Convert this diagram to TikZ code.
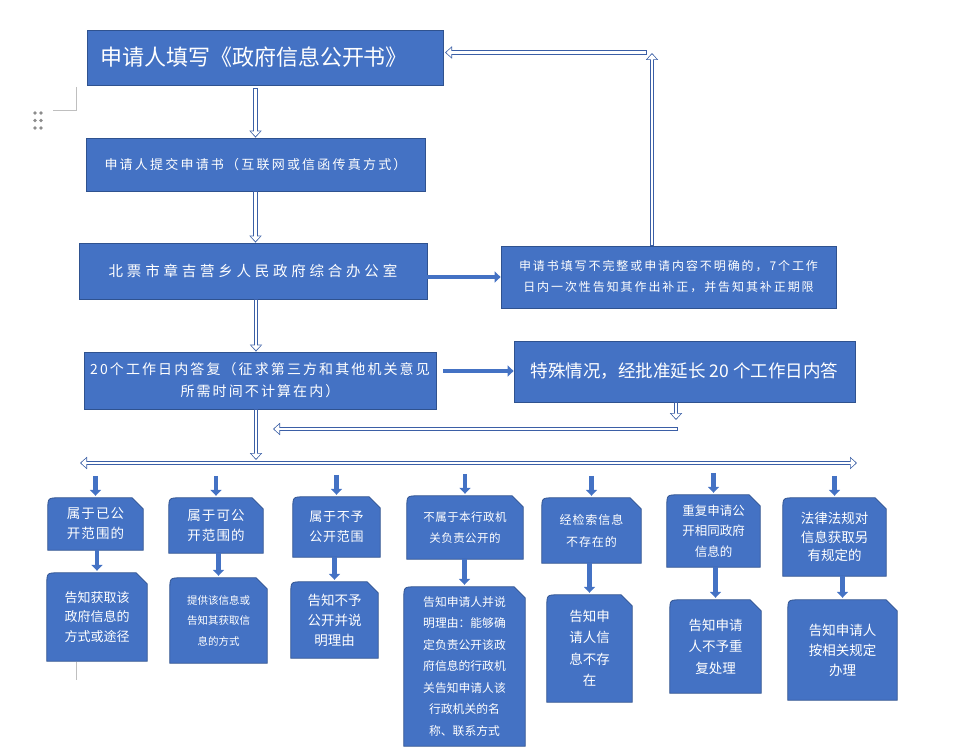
\documentclass[tikz,border=0pt]{standalone}
\usepackage{fontspec}
\setmainfont{Noto Sans CJK SC}
\usetikzlibrary{arrows.meta,backgrounds,calc}
\definecolor{boxblue}{HTML}{4472C4}
\definecolor{boxedge}{HTML}{2F528F}
\definecolor{arrline}{HTML}{3B5FA6}
\newcommand\fs[3]{\fontsize{#1}{#2}\selectfont\addfontfeature{LetterSpace=#3}}
\newcommand\snip[1]{\draw[tabshape] (#1.south west) -- ([yshift=-12pt]#1.north west) .. controls (#1.north west) .. ([xshift=12pt]#1.north west) -- ([xshift=-11pt]#1.north east) -- ([yshift=-11pt]#1.north east) -- (#1.south east) -- cycle;}
\begin{document}
\begin{tikzpicture}[x=1pt,y=-1pt,
  box/.style={draw=boxedge, fill=boxblue, line width=0.8pt, text=white, inner sep=0pt, align=center},
  tab/.style={text=white, inner sep=0pt, align=center},
  tabshape/.style={draw=boxedge, fill=boxblue, line width=0.8pt},
  hollow/.style={draw=arrline, line width=4.2pt, -{Triangle[length=7pt,width=12pt]},
    postaction={draw=white, line width=2.6pt, shorten <=0.8pt, shorten >=1.4pt, -{Triangle[length=4.9pt,width=9.2pt]}}},
  hollowboth/.style={draw=arrline, line width=4.2pt, {Triangle[length=7pt,width=12pt]}-{Triangle[length=7pt,width=12pt]},
    postaction={draw=white, line width=2.6pt, shorten <=1.4pt, shorten >=1.4pt, {Triangle[length=4.9pt,width=9.2pt]}-{Triangle[length=4.9pt,width=9.2pt]}}},
  filled/.style={draw=boxblue, line width=4.5pt, -{Triangle[length=6pt,width=11pt]}},
  artifact/.style={draw=black!25, line width=0.8pt}]
\useasboundingbox (0,0) rectangle (954,752);

% Word artifacts
\draw[artifact] (76.7,87) -- (76.7,110.7) -- (52.7,110.7);
\draw[artifact] (76,662) -- (76,680);
\foreach \dx in {35,41} \foreach \dy in {113,120.5,128} \fill[black!45] (\dx,\dy) circle (1.9pt);

% main column
\node[box, minimum width=356pt, minimum height=55pt, text width=330pt, inner xsep=13pt, align=left, font=\fs{22}{26}{0}] (fillin) at (265,57.5) {申请人填写《政府信息公开书》};
\node[box, minimum width=339pt, minimum height=53pt, font=\fs{13}{18}{17}] (submit) at (255.5,164.5) {申请人提交申请书（互联网或信函传真方式）};
\node[box, minimum width=348pt, minimum height=56pt, font=\fs{14.5}{18}{26}] (office) at (253,271) {北票市章吉营乡人民政府综合办公室};
\node[box, minimum width=335pt, minimum height=62pt, font=\fs{12}{21}{16}] (notice) at (668.5,277) {申请书填写不完整或申请内容不明确的，7个工作\\日内一次性告知其作出补正，并告知其补正期限};
\node[box, minimum width=352pt, minimum height=57pt, font=\fs{14}{22}{15}] (reply) at (260,380.5) {20个工作日内答复（征求第三方和其他机关意见\\所需时间不计算在内）};
\node[box, minimum width=341pt, minimum height=61pt, font=\fs{17.5}{22}{0}] (extend) at (684.5,371.5) {\raisebox{3pt}{特殊情况，经批准延长 20 个工作日内答}};

% bottom row A
\node[tab, minimum width=95pt, minimum height=52pt, font=\fs{13.5}{20}{8}] (a1) at (95.5,524) {属于已公\\开范围的};
\node[tab, minimum width=94pt, minimum height=55pt, font=\fs{13.5}{20}{8}] (a2) at (216,525.5) {属于可公\\开范围的};
\node[tab, minimum width=87pt, minimum height=60pt, font=\fs{13}{20}{6}] (a3) at (336.5,527) {属于不予\\公开范围};
\node[tab, minimum width=116pt, minimum height=63pt, font=\fs{11.5}{21}{4}] (a4) at (465,527.5) {不属于本行政机\\关负责公开的};
\node[tab, minimum width=99pt, minimum height=65pt, font=\fs{12}{22}{8}] (a5) at (591.5,530.5) {经检索信息\\不存在的};
\node[tab, minimum width=93pt, minimum height=72pt, font=\fs{12.5}{20.5}{0}] (a6) at (713.5,531) {重复申请公\\开相同政府\\信息的};
\node[tab, minimum width=103pt, minimum height=78pt, font=\fs{13.5}{18.5}{0}] (a7) at (834.5,537) {法律法规对\\信息获取另\\有规定的};

% bottom row B
\node[tab, minimum width=100pt, minimum height=88pt, font=\fs{13}{19.5}{0}] (b1) at (97,617) {告知获取该\\政府信息的\\方式或途径};
\node[tab, minimum width=97pt, minimum height=85pt, font=\fs{10.5}{20.5}{0}] (b2) at (218.5,620.5) {提供该信息或\\告知其获取信\\息的方式};
\node[tab, minimum width=87pt, minimum height=76pt, font=\fs{13.5}{20}{0}] (b3) at (334.5,620) {告知不予\\公开并说\\明理由};
\node[tab, minimum width=121pt, minimum height=159pt, font=\fs{11.8}{21.5}{0}] (b4) at (464.5,666.5) {告知申请人并说\\明理由：能够确\\定负责公开该政\\府信息的行政机\\关告知申请人该\\行政机关的名\\称、联系方式};
\node[tab, minimum width=85pt, minimum height=107pt, font=\fs{13.5}{21.5}{0}] (b5) at (589.5,648.5) {告知申\\请人信\\息不存\\在};
\node[tab, minimum width=91pt, minimum height=93pt, font=\fs{13.5}{21.5}{0}] (b6) at (715.5,646.5) {告知申请\\人不予重\\复处理};
\node[tab, minimum width=109pt, minimum height=100pt, font=\fs{13.5}{20}{0}] (b7) at (842.5,650) {告知申请人\\按相关规定\\办理};

\begin{scope}[on background layer]
  \foreach \n in {a1,a2,a3,a4,a5,a6,a7,b1,b2,b3,b4,b5,b6,b7} {\snip{\n}}
\end{scope}

% named free ends
\coordinate (s1) at ([yshift=-3pt]fillin.south -| submit.north);
\coordinate (up) at (652,53);
\coordinate (back) at (647,52.5);
\coordinate (backend) at (445,52.5);
\coordinate (e1) at (676,420);
\coordinate (e2) at (678,429);
\coordinate (e3) at (273,429);
\coordinate (busmid) at (256,460);
\coordinate (busL) at (80,463);
\coordinate (busR) at (857,463);

% hollow connectors
\draw[hollow] (s1) -- (submit.north);
\draw[hollow] (submit.south) -- (submit.south |- office.north);
\draw[hollow] ([xshift=3pt]office.south) -- ([xshift=3pt]office.south |- reply.north);
\draw[hollow] (notice.north -| up) -- (up);
\draw[hollow] (back) -- (backend);
\draw[hollow] (extend.south -| e1) -- (e1);
\draw[hollow] (e2) -- (e3);
\draw[hollow] (reply.south -| busmid) -- (busmid);
\draw[hollowboth] (busL) -- (busR);

% filled connectors
\draw[filled] (office.east |- notice.west) -- (notice.west);
\draw[filled, shorten <=7pt] ([yshift=9.5pt]reply.east) -- ([yshift=9.5pt]reply.east -| extend.west);
\foreach \n in {a1,a2,a3,a4,a5,a6,a7} {
  \draw[filled, shorten >=2pt] ([yshift=22pt]\n.north) -- (\n.north);
}
\foreach \a/\b in {a1/b1,a2/b2,a3/b3,a4/b4,a5/b5,a6/b6,a7/b7} {
  \draw[filled, shorten >=2pt] (\a.south -| \b.north) -- (\b.north);
}
\end{tikzpicture}
\end{document}
